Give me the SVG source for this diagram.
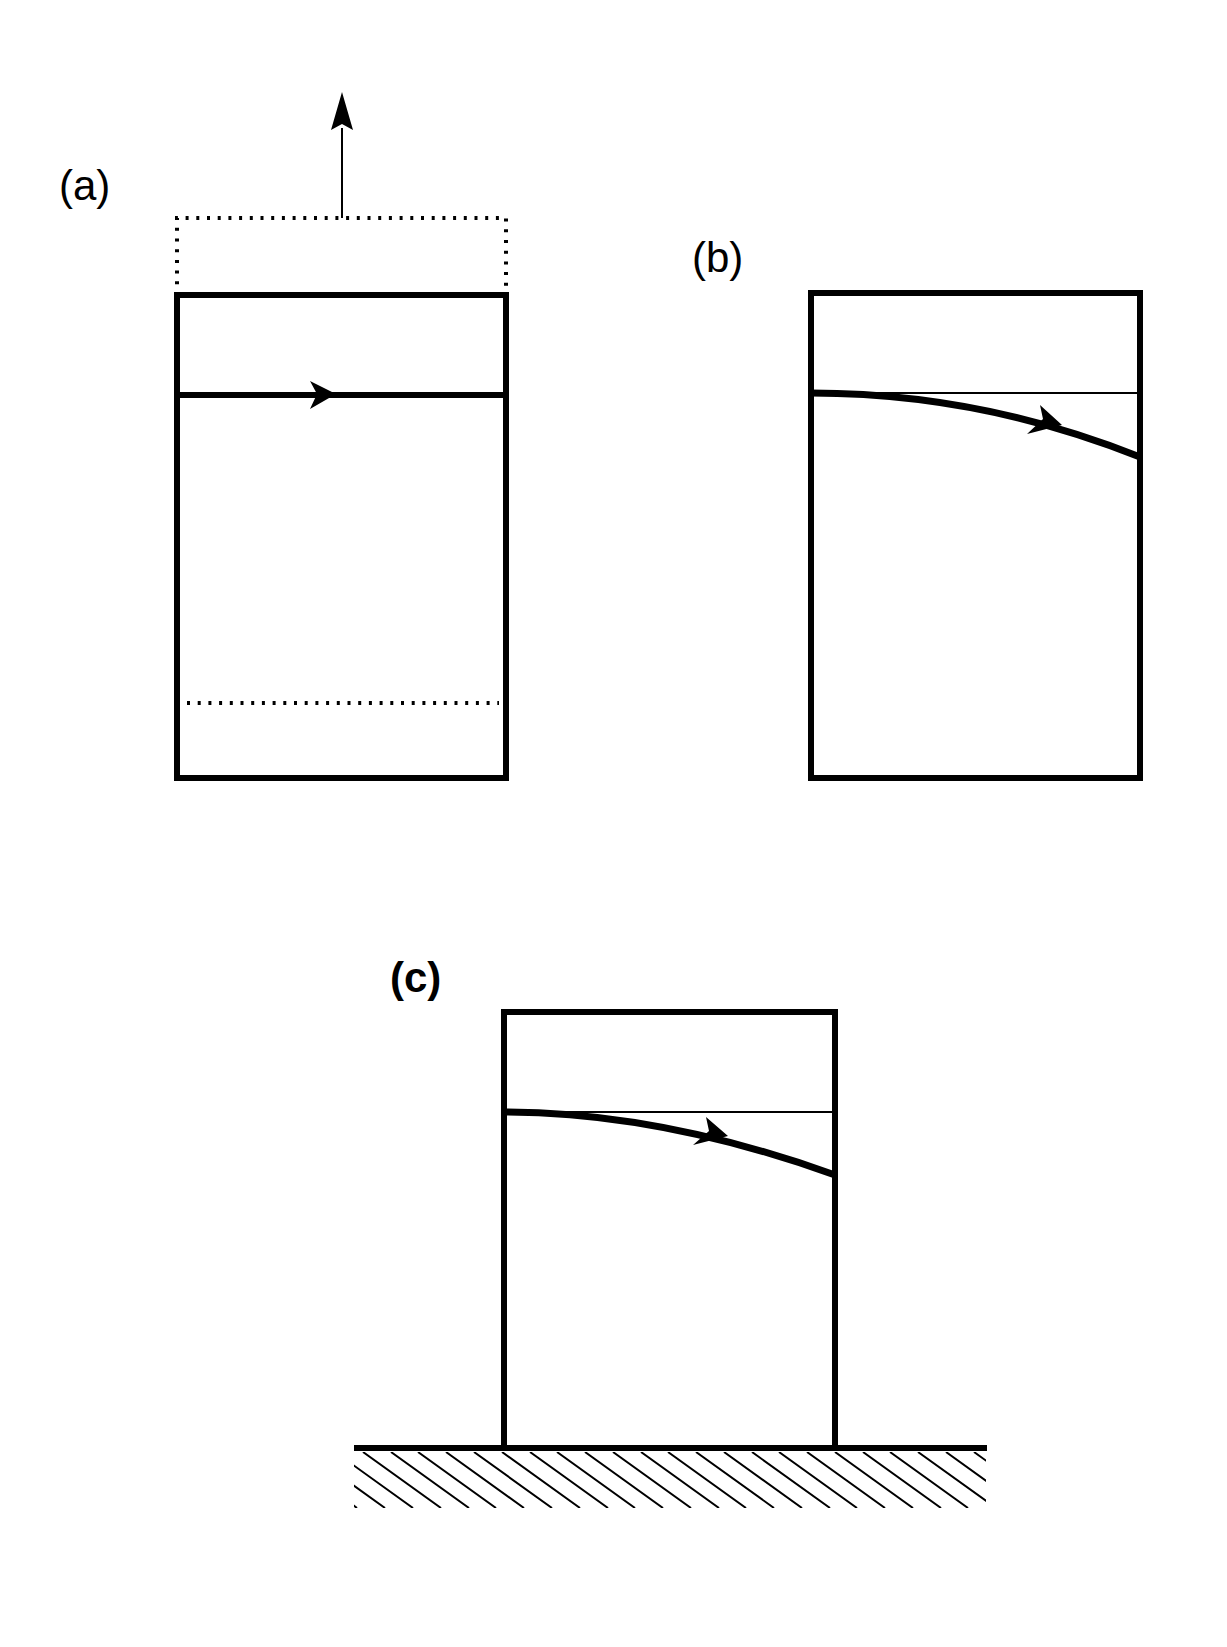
<svg xmlns="http://www.w3.org/2000/svg" width="1227" height="1647" viewBox="0 0 1227 1647">
<style>
.lbl{font-family:"Liberation Sans",Arial,sans-serif;font-size:42px;fill:#000}
.box{fill:none;stroke:#000;stroke-width:6}
.thin{fill:none;stroke:#000;stroke-width:2}
.dot{fill:none;stroke:#000;stroke-width:4;stroke-dasharray:3 7.7}
.flow{fill:none;stroke:#000;stroke-width:6}
.curve{fill:none;stroke:#000;stroke-width:7}
.hatch{stroke:#000;stroke-width:2}
</style>
<defs>
<clipPath id="hclip"><rect x="354" y="1452" width="632" height="56"/></clipPath>
</defs>
<rect width="1227" height="1647" fill="#fff"/>
<g id="panel-a">
<text class="lbl" x="59" y="200">(a)</text>
<path class="dot" d="M177 295 V218 H506 V295"/>
<rect class="box" x="177" y="295" width="329" height="483"/>
<line class="dot" x1="187" y1="703" x2="499" y2="703"/>
</g>
<g id="panel-b">
<text class="lbl" x="692" y="272">(b)</text>
<rect class="box" x="811" y="293" width="329" height="485"/>
<line class="thin" x1="811" y1="393" x2="1140" y2="393"/>
</g>
<g id="panel-c">
<text class="lbl" x="390" y="992" style="font-weight:bold">(c)</text>
<rect class="box" x="504" y="1012" width="331" height="436"/>
<line class="thin" x1="504" y1="1112" x2="835" y2="1112"/>
</g>
<g id="ground">
<line x1="354" y1="1448" x2="987" y2="1448" stroke="#000" stroke-width="6"/>
<g clip-path="url(#hclip)" class="hatch">
<path d="M279 1452 l78 56 M307 1452 l78 56 M335 1452 l78 56 M363 1452 l78 56 M391 1452 l78 56 M418 1452 l78 56 M446 1452 l78 56 M474 1452 l78 56 M502 1452 l78 56 M530 1452 l78 56 M557 1452 l78 56 M585 1452 l78 56 M613 1452 l78 56 M641 1452 l78 56 M668 1452 l78 56 M696 1452 l78 56 M724 1452 l78 56 M752 1452 l78 56 M779 1452 l78 56 M807 1452 l78 56 M835 1452 l78 56 M863 1452 l78 56 M890 1452 l78 56 M918 1452 l78 56 M946 1452 l78 56 M974 1452 l78 56"/>
</g>
</g>
<g id="connectors">
<line class="thin" x1="342" y1="218" x2="342" y2="128"/>
<polygon points="342,92 331,130 342,124 353,130" fill="#000"/>
<line class="flow" x1="177" y1="395" x2="506" y2="395"/>
<polygon points="336,394 310,381 317,394 310,409" fill="#000"/>
<path class="curve" d="M811 393 Q980 393 1140 457"/>
<polygon points="1062,425 1040,405 1043,419 1027,434" fill="#000"/>
<path class="curve" d="M504 1112 Q660 1112 835 1175"/>
<polygon points="728,1136 706,1117 709,1131 693,1145" fill="#000"/>
</g>
</svg>
